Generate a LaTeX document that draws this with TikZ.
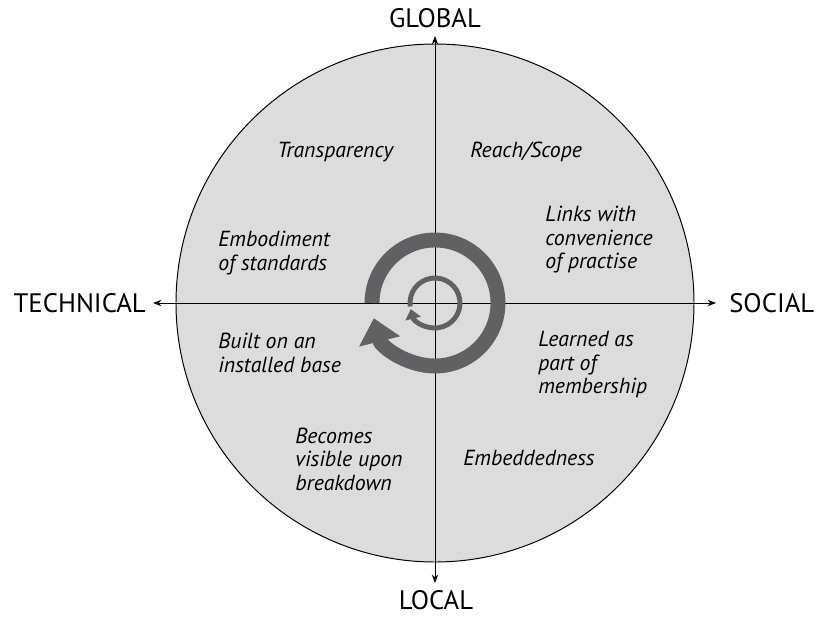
\documentclass[tikz,border=0pt]{standalone}
\usepackage{fontspec}
\setmainfont{PT Sans}
\usetikzlibrary{arrows.meta}

\definecolor{discgray}{HTML}{DCDCDD}
\definecolor{spiralgray}{HTML}{616163}

\tikzset{
  >={Stealth[length=6pt,width=4.5pt]},
  axisname/.style={font=\fontsize{19}{22}\selectfont, inner sep=0pt},
  quality/.style={font=\itshape\fontsize{15.5}{16.7}\selectfont, align=left, anchor=west, inner sep=0pt},
  spiral/.style={draw=spiralgray, line cap=butt}
}

\begin{document}
\begin{tikzpicture}[x=0.025cm,y=0.025cm]
    \useasboundingbox (-435,303) rectangle (385,-316);

    % disc
    \fill[discgray] (0,0) circle (259);
    \draw[line width=0.7pt] (0,0) circle (259);

    % axes
    \coordinate (west) at (-282,0);
    \coordinate (east) at (281,0);
    \coordinate (north) at (0,267);
    \coordinate (south) at (0,-280);
    \draw[line width=0.7pt,<->] (west) -- (east);
    \draw[line width=0.7pt,<->] (south) -- (north);

    \node[axisname, anchor=east] (technical) at (-289,0) {TECHNICAL};
    \node[axisname, anchor=west] (social) at (294,0) {SOCIAL};
    \node[axisname] (global) at (0,285) {GLOBAL};
    \node[axisname] (local) at (1,-297) {LOCAL};

    % spiral in the middle
    \draw[spiral, line width=10.6pt, -{Triangle[length=17pt,width=29pt]}]
        (180:63) arc[start angle=180, end angle=-166, radius=63];
    \draw[spiral, line width=3.5pt, -{Triangle[length=7pt,width=11pt]}]
        (188:25) arc[start angle=188, end angle=-166, radius=25];

    % qualities
    \node[quality] (transparency) at (-158,151) {Transparency};
    \node[quality] (reach) at (35,151) {Reach/Scope};
    \node[quality] (links) at (110,63) {Links with\\convenience\\of practise};
    \node[quality] (embodiment) at (-217,50) {Embodiment\\of standards};
    \node[quality] (built) at (-217,-50) {Built on an\\installed base};
    \node[quality] (learned) at (103,-62) {Learned as\\part of\\membership};
    \node[quality] (visible) at (-140,-156) {Becomes\\visible upon\\breakdown};
    \node[quality] (embedded) at (28,-155) {Embeddedness};
\end{tikzpicture}
\end{document}
